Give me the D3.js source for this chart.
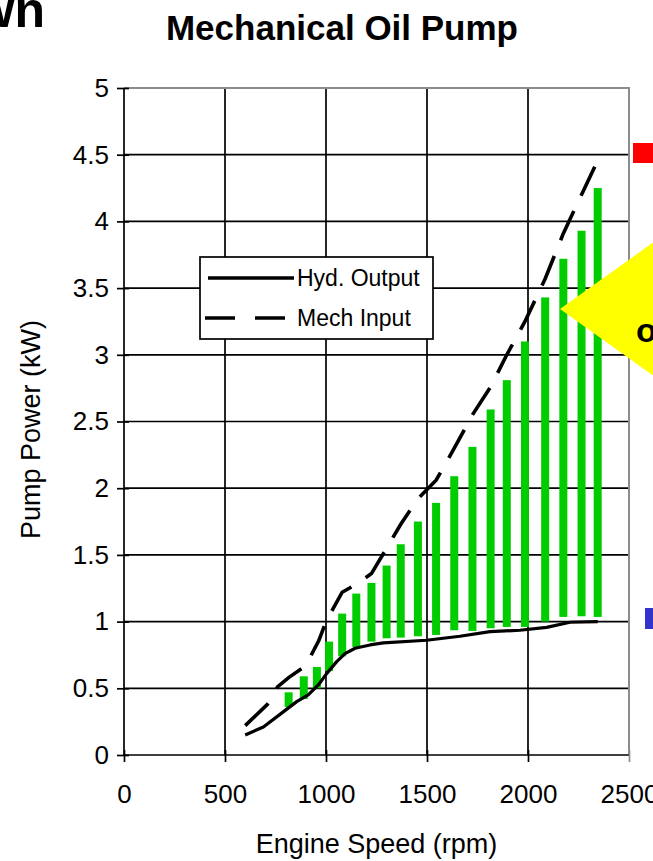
<!DOCTYPE html>
<html>
<head>
<meta charset="utf-8">
<script src="https://cdn.jsdelivr.net/npm/d3@7"></script>
<style>
  html, body { margin: 0; padding: 0; background: #fff; overflow: hidden; }
  svg { display: block; font-family: Arial, "Liberation Sans", sans-serif; }
</style>
</head>
<body>
<svg id="chart" width="653" height="861"></svg>
<script>
// Engine speed (rpm) of each measured point
const barSpeeds = [815, 890, 955, 1015, 1080, 1150, 1225, 1300, 1370, 1455, 1545, 1635, 1725, 1815, 1895, 1985, 2085, 2175, 2265, 2345];
// Span of each green bar (kW): from hydraulic output up to mechanical input
const barLow  = [0.36, 0.42, 0.50, 0.63, 0.74, 0.81, 0.85, 0.875, 0.88, 0.89, 0.90, 0.935, 0.93, 0.95, 0.96, 0.96, 1.00, 1.035, 1.04, 1.035];
const barHigh = [0.47, 0.59, 0.66, 0.85, 1.06, 1.21, 1.29, 1.42, 1.58, 1.75, 1.89, 2.09, 2.31, 2.59, 2.81, 3.10, 3.43, 3.72, 3.93, 4.25];

// Hyd. Output curve
const hydSpeeds = [600, 690, 790, 855, 912, 962, 1003, 1053, 1094, 1144, 1218, 1284, 1498, 1663, 1812, 1960, 2092, 2208, 2345];
const hydOutput = [0.15, 0.21, 0.325, 0.40, 0.45, 0.525, 0.61, 0.70, 0.76, 0.80, 0.825, 0.84, 0.86, 0.89, 0.925, 0.935, 0.957, 0.995, 1.0];

// Mech Input curve
const mechSpeeds = [600, 710, 760, 815, 900, 965, 1000, 1080, 1150, 1225, 1300, 1370, 1455, 1500, 1545, 1635, 1725, 1815, 1895, 1985, 2085, 2175, 2265, 2340];
const mechInput  = [0.22, 0.38, 0.51, 0.58, 0.67, 0.86, 1.0, 1.22, 1.28, 1.36, 1.55, 1.73, 1.92, 1.99, 2.06, 2.30, 2.55, 2.76, 3.00, 3.25, 3.57, 3.91, 4.20, 4.44];

// Axis ticks
const xTicks = [0, 500, 1000, 1500, 2000, 2500];
const yTicks = [0, 0.5, 1, 1.5, 2, 2.5, 3, 3.5, 4, 4.5, 5];

const legendItems = [
  { label: "Hyd. Output", dash: null, x1: 8, x2: 94 },
  { label: "Mech Input", dash: "30,20", x1: 5, x2: 87 }
];

const svg = d3.select("#chart");
const plot = { left: 124, right: 629, top: 88, bottom: 755 };

const x = d3.scaleLinear().domain([0, 2500]).range([plot.left, plot.right]);
const y = d3.scaleLinear().domain([0, 5]).range([plot.bottom, plot.top]);

// Fragment of the slide heading that sits above the chart
svg.append("text")
  .attr("x", 45).attr("y", 27)
  .attr("text-anchor", "end")
  .attr("font-size", 50).attr("font-weight", "bold")
  .text("wn");

// Title
svg.append("text")
  .attr("x", 342).attr("y", 40)
  .attr("text-anchor", "middle")
  .attr("font-size", 35).attr("font-weight", "bold")
  .text("Mechanical Oil Pump");

// Gridlines
const grid = svg.append("g");
grid.selectAll("line.h").data(yTicks.filter(d => d > 0 && d < 5)).join("line")
  .attr("x1", plot.left).attr("x2", plot.right)
  .attr("y1", d => y(d)).attr("y2", d => y(d))
  .attr("stroke", "#000").attr("stroke-width", 1.7);
grid.selectAll("line.v").data(xTicks.filter(d => d > 0 && d < 2500)).join("line")
  .attr("y1", plot.top).attr("y2", plot.bottom)
  .attr("x1", d => x(d)).attr("x2", d => x(d))
  .attr("stroke", "#000").attr("stroke-width", 1.7);

// Plot frame: top and right edges in grey
svg.append("path")
  .attr("d", `M${plot.left},${plot.top}H${plot.right}V${plot.bottom}`)
  .attr("fill", "none").attr("stroke", "#8c8c8c").attr("stroke-width", 2);

// Green bars
svg.append("g").selectAll("rect").data(barSpeeds).join("rect")
  .attr("x", (d) => x(d) - 4)
  .attr("width", 8)
  .attr("y", (d, i) => y(barHigh[i]))
  .attr("height", (d, i) => y(barLow[i]) - y(barHigh[i]))
  .attr("fill", "#00cc00");

// Curves
const line = d3.line().x(d => x(d[0])).y(d => y(d[1]));
svg.append("path")
  .datum(hydSpeeds.map((s, i) => [s, hydOutput[i]]))
  .attr("d", line)
  .attr("fill", "none").attr("stroke", "#000").attr("stroke-width", 3.2)
  .attr("stroke-linejoin", "round");
svg.append("path")
  .datum(mechSpeeds.map((s, i) => [s, mechInput[i]]))
  .attr("d", line)
  .attr("fill", "none").attr("stroke", "#000").attr("stroke-width", 3.6)
  .attr("stroke-dasharray", "32,17");

// Axes
const xAxis = svg.append("g").attr("transform", `translate(0,${plot.bottom})`)
  .call(d3.axisBottom(x).tickValues(xTicks).tickSize(7).tickPadding(23).tickFormat(d3.format("d")));
const yAxis = svg.append("g").attr("transform", `translate(${plot.left},0)`)
  .call(d3.axisLeft(y).tickValues(yTicks).tickSize(7).tickPadding(8).tickFormat(d => String(d)));
[xAxis, yAxis].forEach(g => {
  g.select(".domain").attr("stroke", "#000").attr("stroke-width", 1.7);
  g.selectAll(".tick line").attr("stroke", "#000").attr("stroke-width", 1.7);
  g.selectAll(".tick text").attr("font-size", 26).attr("fill", "#000")
    .attr("font-family", "Arial, 'Liberation Sans', sans-serif");
});
xAxis.select(".domain").attr("d", `M${plot.left},0H${plot.right}`);
yAxis.select(".domain").attr("d", `M0,${plot.top}V${plot.bottom}`);
// cross-style ticks reach a little into the plot too
xAxis.selectAll(".tick line").attr("y1", -5);
yAxis.selectAll(".tick line").attr("x1", 5);
xAxis.selectAll(".tick").filter(d => d === 2500).select("line").attr("stroke", "#8c8c8c");

// Axis titles
svg.append("text")
  .attr("x", (plot.left + plot.right) / 2).attr("y", 853)
  .attr("text-anchor", "middle").attr("font-size", 27)
  .text("Engine Speed (rpm)");
svg.append("text")
  .attr("transform", `translate(40,${(plot.top + plot.bottom) / 2 + 8}) rotate(-90)`)
  .attr("text-anchor", "middle").attr("font-size", 27)
  .text("Pump Power (kW)");

// Legend
const legend = svg.append("g").attr("transform", "translate(200,257)");
legend.append("rect")
  .attr("width", 233).attr("height", 82)
  .attr("fill", "#fff").attr("stroke", "#000").attr("stroke-width", 1.7);
const li = legend.selectAll("g.item").data(legendItems).join("g")
  .attr("transform", (d, i) => `translate(0,${21 + i * 40})`);
li.append("line")
  .attr("x1", d => d.x1).attr("x2", d => d.x2)
  .attr("stroke", "#000").attr("stroke-width", 3.4)
  .attr("stroke-dasharray", d => d.dash);
li.append("text")
  .attr("x", 97).attr("dy", "0.35em")
  .attr("font-size", 23)
  .text(d => d.label);

// Neighbouring slide shapes cut by the edge
svg.append("rect").attr("x", 633).attr("y", 143).attr("width", 30).attr("height", 20).attr("fill", "#ff0000");
svg.append("path")
  .attr("d", "M560,309L700,209L700,409Z")
  .attr("fill", "#ffff00");
svg.append("text")
  .attr("x", 636).attr("y", 342)
  .attr("font-size", 34).attr("font-weight", "bold")
  .text("o");
svg.append("rect").attr("x", 645).attr("y", 608).attr("width", 20).attr("height", 21).attr("fill", "#3333cc");
</script>
</body>
</html>
